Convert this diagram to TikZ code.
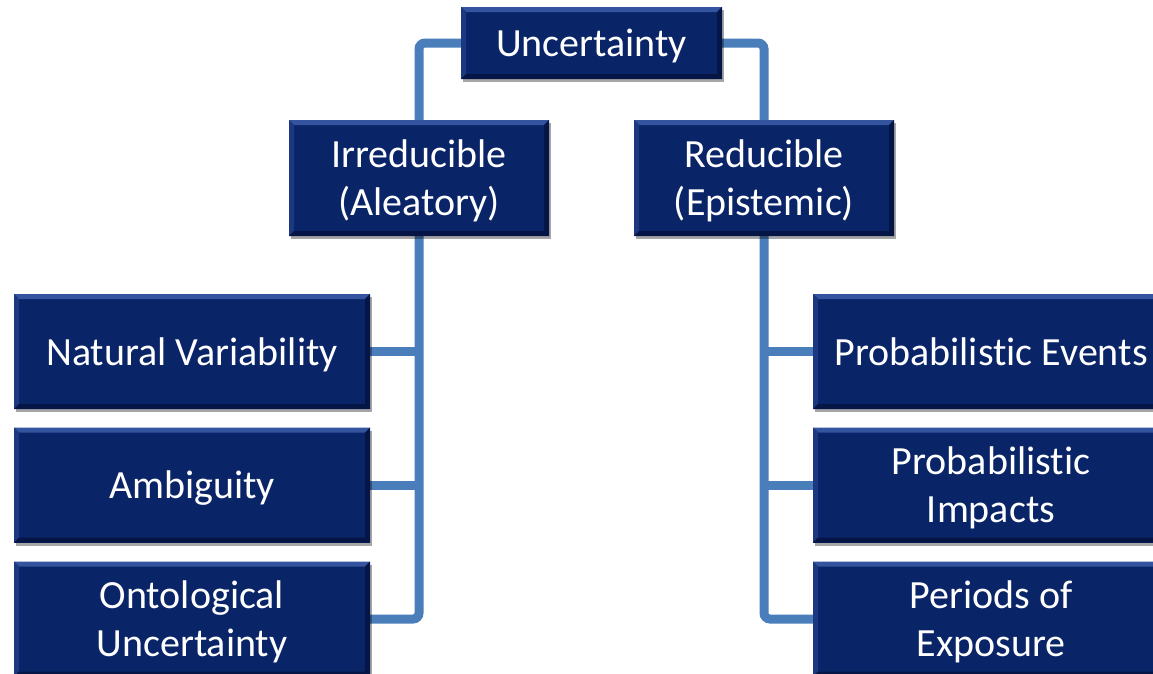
\documentclass[tikz,border=0pt]{standalone}
\usepackage{fontspec}
\setmainfont{Carlito}[Ligatures=NoCommon]
\usetikzlibrary{shadows,backgrounds}
\definecolor{navy}{RGB}{10,36,104}
\definecolor{bevlight}{RGB}{52,84,160}
\definecolor{bevside}{RGB}{28,56,128}
\definecolor{bevdark}{RGB}{5,22,70}
\definecolor{linkblue}{RGB}{74,126,187}
\newcommand{\boxlbl}[1]{\raisebox{-4pt}[\height][\depth]{\begin{tabular}{@{}c@{}}#1\end{tabular}}}
\tikzset{
  ubox/.style={draw=none, fill=navy, text=white, font=\fontsize{40}{48}\selectfont,
    inner sep=0pt, minimum width=#1, minimum height=115pt,
    drop shadow={shadow xshift=2pt, shadow yshift=-3pt, opacity=0.35, fill=black},
    path picture={
      \fill[bevlight] (path picture bounding box.north west) -- (path picture bounding box.north east)
        -- ([shift={(-5pt,-5pt)}]path picture bounding box.north east) -- ([shift={(5pt,-5pt)}]path picture bounding box.north west) -- cycle;
      \fill[bevside] (path picture bounding box.north west) -- ([shift={(5pt,-5pt)}]path picture bounding box.north west)
        -- ([shift={(5pt,5pt)}]path picture bounding box.south west) -- (path picture bounding box.south west) -- cycle;
      \fill[bevdark] (path picture bounding box.north east) -- ([shift={(-5pt,-5pt)}]path picture bounding box.north east)
        -- ([shift={(-5pt,5pt)}]path picture bounding box.south east) -- (path picture bounding box.south east) -- cycle;
      \fill[bevdark] (path picture bounding box.south west) -- (path picture bounding box.south east)
        -- ([shift={(-5pt,5pt)}]path picture bounding box.south east) -- ([shift={(5pt,5pt)}]path picture bounding box.south west) -- cycle;
    }},
  ubox/.default=356pt,
  link/.style={draw=linkblue, line width=9pt, rounded corners=6pt}
}
\begin{document}
\begin{tikzpicture}[x=1pt,y=-1pt]
\path[use as bounding box, clip] (0,0) rectangle (1153,673);
% top level
\node[ubox=261pt, minimum height=72pt] (U) at (591.5,43) {\boxlbl{Uncertainty}};
\node[ubox=260pt, minimum height=116pt] (I) at (419,178) {\boxlbl{Irreducible\\(Aleatory)}};
\node[ubox=260pt, minimum height=116pt] (R) at (764,178) {\boxlbl{Reducible\\(Epistemic)}};
% left column
\node[ubox] (NV) at (192,351.5) {\boxlbl{Natural Variability}};
\node[ubox] (AM) at (192,485) {\boxlbl{Ambiguity}};
\node[ubox] (OU) at (192,619) {\boxlbl{Ontological\\Uncertainty}};
% right column
\node[ubox] (PE) at (991,351.5) {\boxlbl{Probabilistic Events}};
\node[ubox] (PI) at (991,485) {\boxlbl{Probabilistic\\Impacts}};
\node[ubox] (PX) at (991,619) {\boxlbl{Periods of\\Exposure}};
\begin{scope}[on background layer]
\draw[link] (U.west) -| (I.north);
\draw[link] (U.east) -| (R.north);
\draw[link] (I.south) |- (OU.east);
\draw[link] (NV.east) -- (NV.east -| I.south);
\draw[link] (AM.east) -- (AM.east -| I.south);
\draw[link] (R.south) |- (PX.west);
\draw[link] (PE.west) -- (PE.west -| R.south);
\draw[link] (PI.west) -- (PI.west -| R.south);
\end{scope}
\end{tikzpicture}
\end{document}
